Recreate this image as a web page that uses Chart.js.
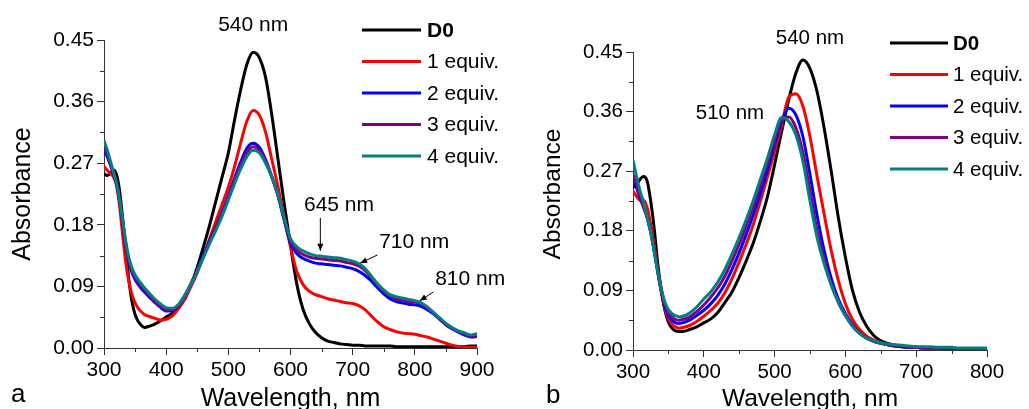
<!DOCTYPE html>
<html>
<head>
<meta charset="utf-8">
<script src="https://cdn.jsdelivr.net/npm/chart.js@4.4.1/dist/chart.umd.min.js"></script>
<style>
  html, body { margin: 0; padding: 0; background: #fff; overflow: hidden; }
  canvas { position: absolute; top: 0; }
  #chartA { left: 0; }
  #chartB { left: 515px; }
</style>
</head>
<body>
<canvas id="chartA" width="515" height="409"></canvas>
<canvas id="chartB" width="514" height="409"></canvas>
<script>
var seriesNames = ['D0', '1 equiv.', '2 equiv.', '3 equiv.', '4 equiv.'];
var seriesColors = ['#000000', '#ff0000', '#0000ff', '#800080', '#008080'];
var yTicks = [0, 0.09, 0.18, 0.27, 0.36, 0.45];
var xTicksA = [300, 400, 500, 600, 700, 800, 900];
var xTicksB = [300, 400, 500, 600, 700, 800];

// panel a: 300-900 nm
var wavelengthsA = [300, 305, 310, 315, 320, 325, 330, 335, 340, 345, 350, 355, 360, 365, 370,
  380, 390, 400, 410, 420, 430, 440, 450, 460, 470, 480, 490, 500, 510, 520, 530, 540, 550, 560, 570,
  580, 590, 600, 610, 620, 630, 640, 650, 660, 670, 680, 690, 700, 710, 720, 730, 740, 750, 760, 770,
  780, 790, 800, 810, 820, 830, 840, 850, 860, 870, 880, 890, 900];
var d0A = [0.255, 0.252, 0.255, 0.26, 0.254, 0.23, 0.19, 0.145, 0.1, 0.068, 0.049, 0.039, 0.033, 0.03, 0.031,
  0.034, 0.039, 0.045, 0.051, 0.059, 0.072, 0.092, 0.118, 0.148, 0.18, 0.215, 0.25, 0.285, 0.333, 0.378, 0.415, 0.432, 0.424, 0.395, 0.34,
  0.275, 0.21, 0.15, 0.094, 0.057, 0.036, 0.023, 0.015, 0.01, 0.008, 0.006, 0.005, 0.004, 0.004, 0.003, 0.003, 0.003, 0.003, 0.003, 0.002,
  0.002, 0.002, 0.002, 0.002, 0.002, 0.002, 0.002, 0.002, 0.002, 0.002, 0.002, 0.003, 0.003];
var equiv1A = [0.265, 0.26, 0.255, 0.25, 0.238, 0.208, 0.165, 0.125, 0.097, 0.078, 0.066, 0.058, 0.053, 0.049, 0.047,
  0.044, 0.041, 0.042, 0.047, 0.058, 0.072, 0.09, 0.11, 0.134, 0.16, 0.185, 0.21, 0.235, 0.265, 0.3, 0.332, 0.347, 0.34, 0.315, 0.275,
  0.235, 0.19, 0.148, 0.112, 0.093, 0.083, 0.078, 0.075, 0.072, 0.07, 0.068, 0.066, 0.065, 0.062, 0.056, 0.047, 0.038, 0.031, 0.027, 0.024,
  0.022, 0.021, 0.02, 0.018, 0.016, 0.013, 0.01, 0.007, 0.004, 0.002, 0.001, 0.001, 0.001];
var equiv2A = [0.29, 0.28, 0.268, 0.255, 0.24, 0.215, 0.183, 0.15, 0.125, 0.11, 0.1, 0.093, 0.087, 0.082, 0.077,
  0.068, 0.06, 0.054, 0.054, 0.062, 0.076, 0.094, 0.114, 0.136, 0.157, 0.176, 0.198, 0.222, 0.248, 0.272, 0.292, 0.299, 0.293, 0.275, 0.25,
  0.222, 0.186, 0.153, 0.138, 0.131, 0.127, 0.124, 0.123, 0.122, 0.121, 0.12, 0.118, 0.116, 0.112, 0.106, 0.098, 0.088, 0.079, 0.072, 0.068,
  0.066, 0.064, 0.063, 0.061, 0.056, 0.05, 0.042, 0.034, 0.028, 0.023, 0.019, 0.016, 0.017];
var equiv3A = [0.295, 0.283, 0.27, 0.256, 0.241, 0.216, 0.184, 0.152, 0.128, 0.113, 0.103, 0.096, 0.09, 0.085, 0.08,
  0.07, 0.062, 0.056, 0.056, 0.063, 0.077, 0.094, 0.113, 0.134, 0.155, 0.174, 0.195, 0.219, 0.245, 0.268, 0.286, 0.294, 0.289, 0.273, 0.25,
  0.223, 0.188, 0.157, 0.143, 0.137, 0.133, 0.131, 0.13, 0.129, 0.128, 0.127, 0.125, 0.123, 0.12, 0.113, 0.103, 0.092, 0.083, 0.076, 0.072,
  0.07, 0.068, 0.067, 0.065, 0.059, 0.051, 0.043, 0.035, 0.029, 0.024, 0.021, 0.018, 0.019];
var equiv4A = [0.303, 0.29, 0.274, 0.258, 0.242, 0.218, 0.187, 0.156, 0.132, 0.117, 0.107, 0.1, 0.094, 0.088, 0.083,
  0.073, 0.065, 0.059, 0.058, 0.064, 0.077, 0.093, 0.112, 0.132, 0.153, 0.172, 0.193, 0.216, 0.24, 0.262, 0.28, 0.289, 0.285, 0.27, 0.25,
  0.224, 0.19, 0.16, 0.148, 0.142, 0.138, 0.135, 0.134, 0.133, 0.132, 0.131, 0.129, 0.127, 0.123, 0.116, 0.105, 0.094, 0.085, 0.078, 0.075,
  0.073, 0.071, 0.069, 0.066, 0.06, 0.052, 0.044, 0.036, 0.03, 0.025, 0.022, 0.019, 0.021];

// panel b: 300-800 nm
var wavelengthsB = [300, 305, 310, 315, 320, 325, 330, 335, 340, 345, 350, 355, 360, 365, 370,
  380, 390, 400, 410, 420, 430, 440, 450, 460, 470, 480, 490, 500, 510, 520, 530, 540, 550, 560, 570,
  580, 590, 600, 610, 620, 630, 640, 650, 660, 670, 680, 690, 700, 710, 720, 730, 740, 750, 760, 770,
  780, 790, 800];
var d0B = [0.245, 0.25, 0.258, 0.262, 0.255, 0.225, 0.183, 0.13, 0.09, 0.06, 0.042, 0.033, 0.029, 0.028, 0.028,
  0.031, 0.035, 0.041, 0.047, 0.057, 0.072, 0.088, 0.11, 0.135, 0.162, 0.195, 0.232, 0.28, 0.33, 0.378, 0.418, 0.438, 0.425, 0.39, 0.335,
  0.27, 0.2, 0.14, 0.09, 0.057, 0.036, 0.022, 0.014, 0.01, 0.007, 0.005, 0.004, 0.004, 0.003, 0.003, 0.003, 0.002, 0.002, 0.002, 0.002,
  0.002, 0.002, 0.002];
var equiv1B = [0.24, 0.232, 0.226, 0.226, 0.215, 0.19, 0.158, 0.12, 0.088, 0.063, 0.047, 0.039, 0.035, 0.033, 0.034,
  0.037, 0.043, 0.051, 0.06, 0.071, 0.087, 0.108, 0.133, 0.16, 0.19, 0.225, 0.262, 0.3, 0.34, 0.382, 0.387, 0.368, 0.322, 0.262, 0.205,
  0.15, 0.105, 0.07, 0.046, 0.031, 0.021, 0.015, 0.011, 0.008, 0.006, 0.005, 0.004, 0.004, 0.003, 0.003, 0.003, 0.002, 0.002, 0.002, 0.002,
  0.002, 0.002, 0.002];
var equiv2B = [0.26, 0.245, 0.229, 0.215, 0.2, 0.178, 0.15, 0.117, 0.088, 0.066, 0.052, 0.045, 0.041, 0.04, 0.041,
  0.045, 0.052, 0.06, 0.07, 0.083, 0.1, 0.122, 0.147, 0.175, 0.205, 0.237, 0.272, 0.31, 0.345, 0.365, 0.355, 0.322, 0.265, 0.203, 0.15,
  0.108, 0.077, 0.055, 0.038, 0.026, 0.018, 0.013, 0.01, 0.008, 0.006, 0.005, 0.004, 0.004, 0.003, 0.003, 0.003, 0.002, 0.002, 0.002, 0.002,
  0.002, 0.002, 0.002];
var equiv3B = [0.265, 0.25, 0.232, 0.217, 0.2, 0.178, 0.15, 0.12, 0.092, 0.07, 0.057, 0.05, 0.046, 0.045, 0.046,
  0.05, 0.058, 0.068, 0.08, 0.094, 0.112, 0.135, 0.16, 0.188, 0.217, 0.25, 0.283, 0.318, 0.348, 0.352, 0.336, 0.298, 0.24, 0.18, 0.138,
  0.1, 0.072, 0.052, 0.036, 0.025, 0.018, 0.013, 0.01, 0.008, 0.007, 0.006, 0.005, 0.004, 0.004, 0.003, 0.003, 0.003, 0.003, 0.002, 0.002,
  0.002, 0.002, 0.002];
var equiv4B = [0.287, 0.262, 0.24, 0.222, 0.2, 0.178, 0.148, 0.118, 0.092, 0.072, 0.061, 0.055, 0.052, 0.05, 0.051,
  0.056, 0.065, 0.077, 0.088, 0.103, 0.122, 0.145, 0.17, 0.197, 0.226, 0.258, 0.29, 0.325, 0.351, 0.345, 0.325, 0.285, 0.225, 0.17, 0.13,
  0.098, 0.073, 0.052, 0.036, 0.025, 0.018, 0.014, 0.011, 0.009, 0.008, 0.007, 0.006, 0.005, 0.005, 0.005, 0.004, 0.004, 0.004, 0.003, 0.003,
  0.003, 0.003, 0.003];

var axisColor = '#333333';
var fontFamily = "'Liberation Sans', Arial, sans-serif";
Chart.defaults.font.family = fontFamily;
Chart.defaults.color = '#000';

// minor ticks, y title, legend, peak labels and panel letter
var decor = {
  id: 'decor',
  afterDraw: function (chart, args, opts) {
    var ctx = chart.ctx, xs = chart.scales.x, ys = chart.scales.y, area = chart.chartArea;
    ctx.save();

    // minor ticks halfway between the major ones
    ctx.strokeStyle = axisColor;
    ctx.lineWidth = 1;
    ctx.beginPath();
    for (var v = xs.min + 50; v < xs.max; v += 100) {
      var px = Math.round(xs.getPixelForValue(v)) + 0.5;
      ctx.moveTo(px, area.bottom);
      ctx.lineTo(px, area.bottom + 4);
    }
    for (var k = 0; k < yTicks.length - 1; k++) {
      var py = Math.round(ys.getPixelForValue((yTicks[k] + yTicks[k + 1]) / 2)) + 0.5;
      ctx.moveTo(area.left, py);
      ctx.lineTo(area.left - 4, py);
    }
    ctx.stroke();

    // y axis title
    ctx.fillStyle = '#000';
    ctx.save();
    ctx.translate(opts.yTitle.x, opts.yTitle.y);
    ctx.rotate(-Math.PI / 2);
    ctx.textAlign = 'center';
    ctx.textBaseline = 'middle';
    ctx.font = opts.titleSize + 'px ' + fontFamily;
    ctx.fillText('Absorbance', 0, 0);
    ctx.restore();

    // legend
    var lg = opts.legend;
    ctx.textAlign = 'left';
    ctx.textBaseline = 'middle';
    chart.data.datasets.forEach(function (ds, i) {
      var y = lg.top + i * lg.step;
      ctx.strokeStyle = ds.borderColor;
      ctx.lineWidth = 3;
      ctx.beginPath();
      ctx.moveTo(lg.x1, y);
      ctx.lineTo(lg.x2, y);
      ctx.stroke();
      ctx.fillStyle = '#000';
      ctx.font = (i === 0 ? 'bold ' : '') + opts.fontSize + 'px ' + fontFamily;
      ctx.fillText(ds.label, lg.x2 + lg.gap, y + 1);
    });

    // peak labels and arrows
    ctx.font = opts.fontSize + 'px ' + fontFamily;
    ctx.textAlign = 'center';
    ctx.fillStyle = '#000';
    opts.notes.forEach(function (n) {
      ctx.fillText(n.text, xs.getPixelForValue(n.x), ys.getPixelForValue(n.y));
      if (n.arrow) {
        var x1 = xs.getPixelForValue(n.arrow[0]), y1 = ys.getPixelForValue(n.arrow[1]);
        var x2 = xs.getPixelForValue(n.arrow[2]), y2 = ys.getPixelForValue(n.arrow[3]);
        var ang = Math.atan2(y2 - y1, x2 - x1);
        ctx.strokeStyle = '#000';
        ctx.lineWidth = 1;
        ctx.beginPath();
        ctx.moveTo(x1, y1);
        ctx.lineTo(x2, y2);
        ctx.stroke();
        ctx.beginPath();
        ctx.moveTo(x2, y2);
        ctx.lineTo(x2 - 7 * Math.cos(ang) + 3 * Math.sin(ang), y2 - 7 * Math.sin(ang) - 3 * Math.cos(ang));
        ctx.lineTo(x2 - 7 * Math.cos(ang) - 3 * Math.sin(ang), y2 - 7 * Math.sin(ang) + 3 * Math.cos(ang));
        ctx.closePath();
        ctx.fill();
      }
    });

    // panel letter
    ctx.textAlign = 'left';
    ctx.textBaseline = 'alphabetic';
    ctx.font = '26px ' + fontFamily;
    ctx.fillText(opts.letter.text, opts.letter.x, opts.letter.y);
    ctx.restore();
  }
};

function buildDatasets(wavelengths, series) {
  return series.map(function (values, i) {
    return {
      label: seriesNames[i],
      data: values.map(function (v, k) { return { x: wavelengths[k], y: v }; }),
      borderColor: seriesColors[i],
      backgroundColor: seriesColors[i],
      borderWidth: 3,
      pointRadius: 0,
      fill: false,
      cubicInterpolationMode: 'monotone',
      order: series.length - 1 - i
    };
  });
}

function createPanel(canvasId, p) {
  var ctx = document.getElementById(canvasId).getContext('2d');
  return new Chart(ctx, {
    type: 'line',
    data: { datasets: buildDatasets(p.wavelengths, p.series) },
    plugins: [decor],
    options: {
      responsive: false,
      animation: false,
      layout: { padding: { left: 0, top: p.top, right: p.right, bottom: 0 } },
      plugins: {
        legend: { display: false },
        tooltip: { enabled: false },
        decor: { legend: p.legend, notes: p.notes, letter: p.letter, yTitle: p.yTitle, fontSize: p.fontSize, titleSize: p.titleSize }
      },
      scales: {
        x: {
          type: 'linear',
          min: p.xTicks[0],
          max: p.xTicks[p.xTicks.length - 1],
          afterBuildTicks: function (s) { s.ticks = p.xTicks.map(function (v) { return { value: v }; }); },
          afterFit: function (s) { s.height = p.xHeight; },
          grid: { display: true, drawOnChartArea: false, tickLength: 7, tickColor: axisColor },
          border: { color: axisColor, width: 1 },
          ticks: { font: { size: p.fontSize }, padding: 3, maxRotation: 0, color: '#000' },
          title: { display: true, text: 'Wavelength, nm', font: { size: p.titleSize }, color: '#000', padding: { top: 0, bottom: p.xTitlePad } }
        },
        y: {
          min: 0,
          max: 0.45,
          afterBuildTicks: function (s) { s.ticks = yTicks.map(function (v) { return { value: v }; }); },
          afterFit: function (s) { s.width = p.yWidth; },
          grid: { display: true, drawOnChartArea: false, tickLength: 7, tickColor: axisColor },
          border: { color: axisColor, width: 1 },
          ticks: { font: { size: p.fontSize }, padding: 3, color: '#000', callback: function (v) { return v.toFixed(2); } }
        }
      }
    }
  });
}

createPanel('chartA', {
  wavelengths: wavelengthsA,
  series: [d0A, equiv1A, equiv2A, equiv3A, equiv4A],
  xTicks: xTicksA,
  top: 40, right: 38, yWidth: 104, xHeight: 61,
  fontSize: 21, titleSize: 25, xTitlePad: -5,
  yTitle: { x: 23, y: 194 },
  legend: { x1: 362, x2: 421, gap: 6, top: 30, step: 31.5 },
  notes: [
    { text: '540 nm', x: 540, y: 0.472 },
    { text: '645 nm', x: 678, y: 0.208, arrow: [648, 0.19, 648, 0.142] },
    { text: '710 nm', x: 799, y: 0.154, arrow: [740, 0.136, 712, 0.124] },
    { text: '810 nm', x: 889, y: 0.101, arrow: [830, 0.082, 808, 0.069] }
  ],
  letter: { text: 'a', x: 11, y: 402 }
});

createPanel('chartB', {
  wavelengths: wavelengthsB,
  series: [d0B, equiv1B, equiv2B, equiv3B, equiv4B],
  xTicks: xTicksB,
  top: 52, right: 42, yWidth: 118, xHeight: 59,
  fontSize: 20.5, titleSize: 24.5, xTitlePad: -5,
  yTitle: { x: 38, y: 194 },
  legend: { x1: 375, x2: 433, gap: 5, top: 43, step: 31.5 },
  notes: [
    { text: '540 nm', x: 550, y: 0.47 },
    { text: '510 nm', x: 437, y: 0.357 }
  ],
  letter: { text: 'b', x: 31, y: 403 }
});
</script>
</body>
</html>
